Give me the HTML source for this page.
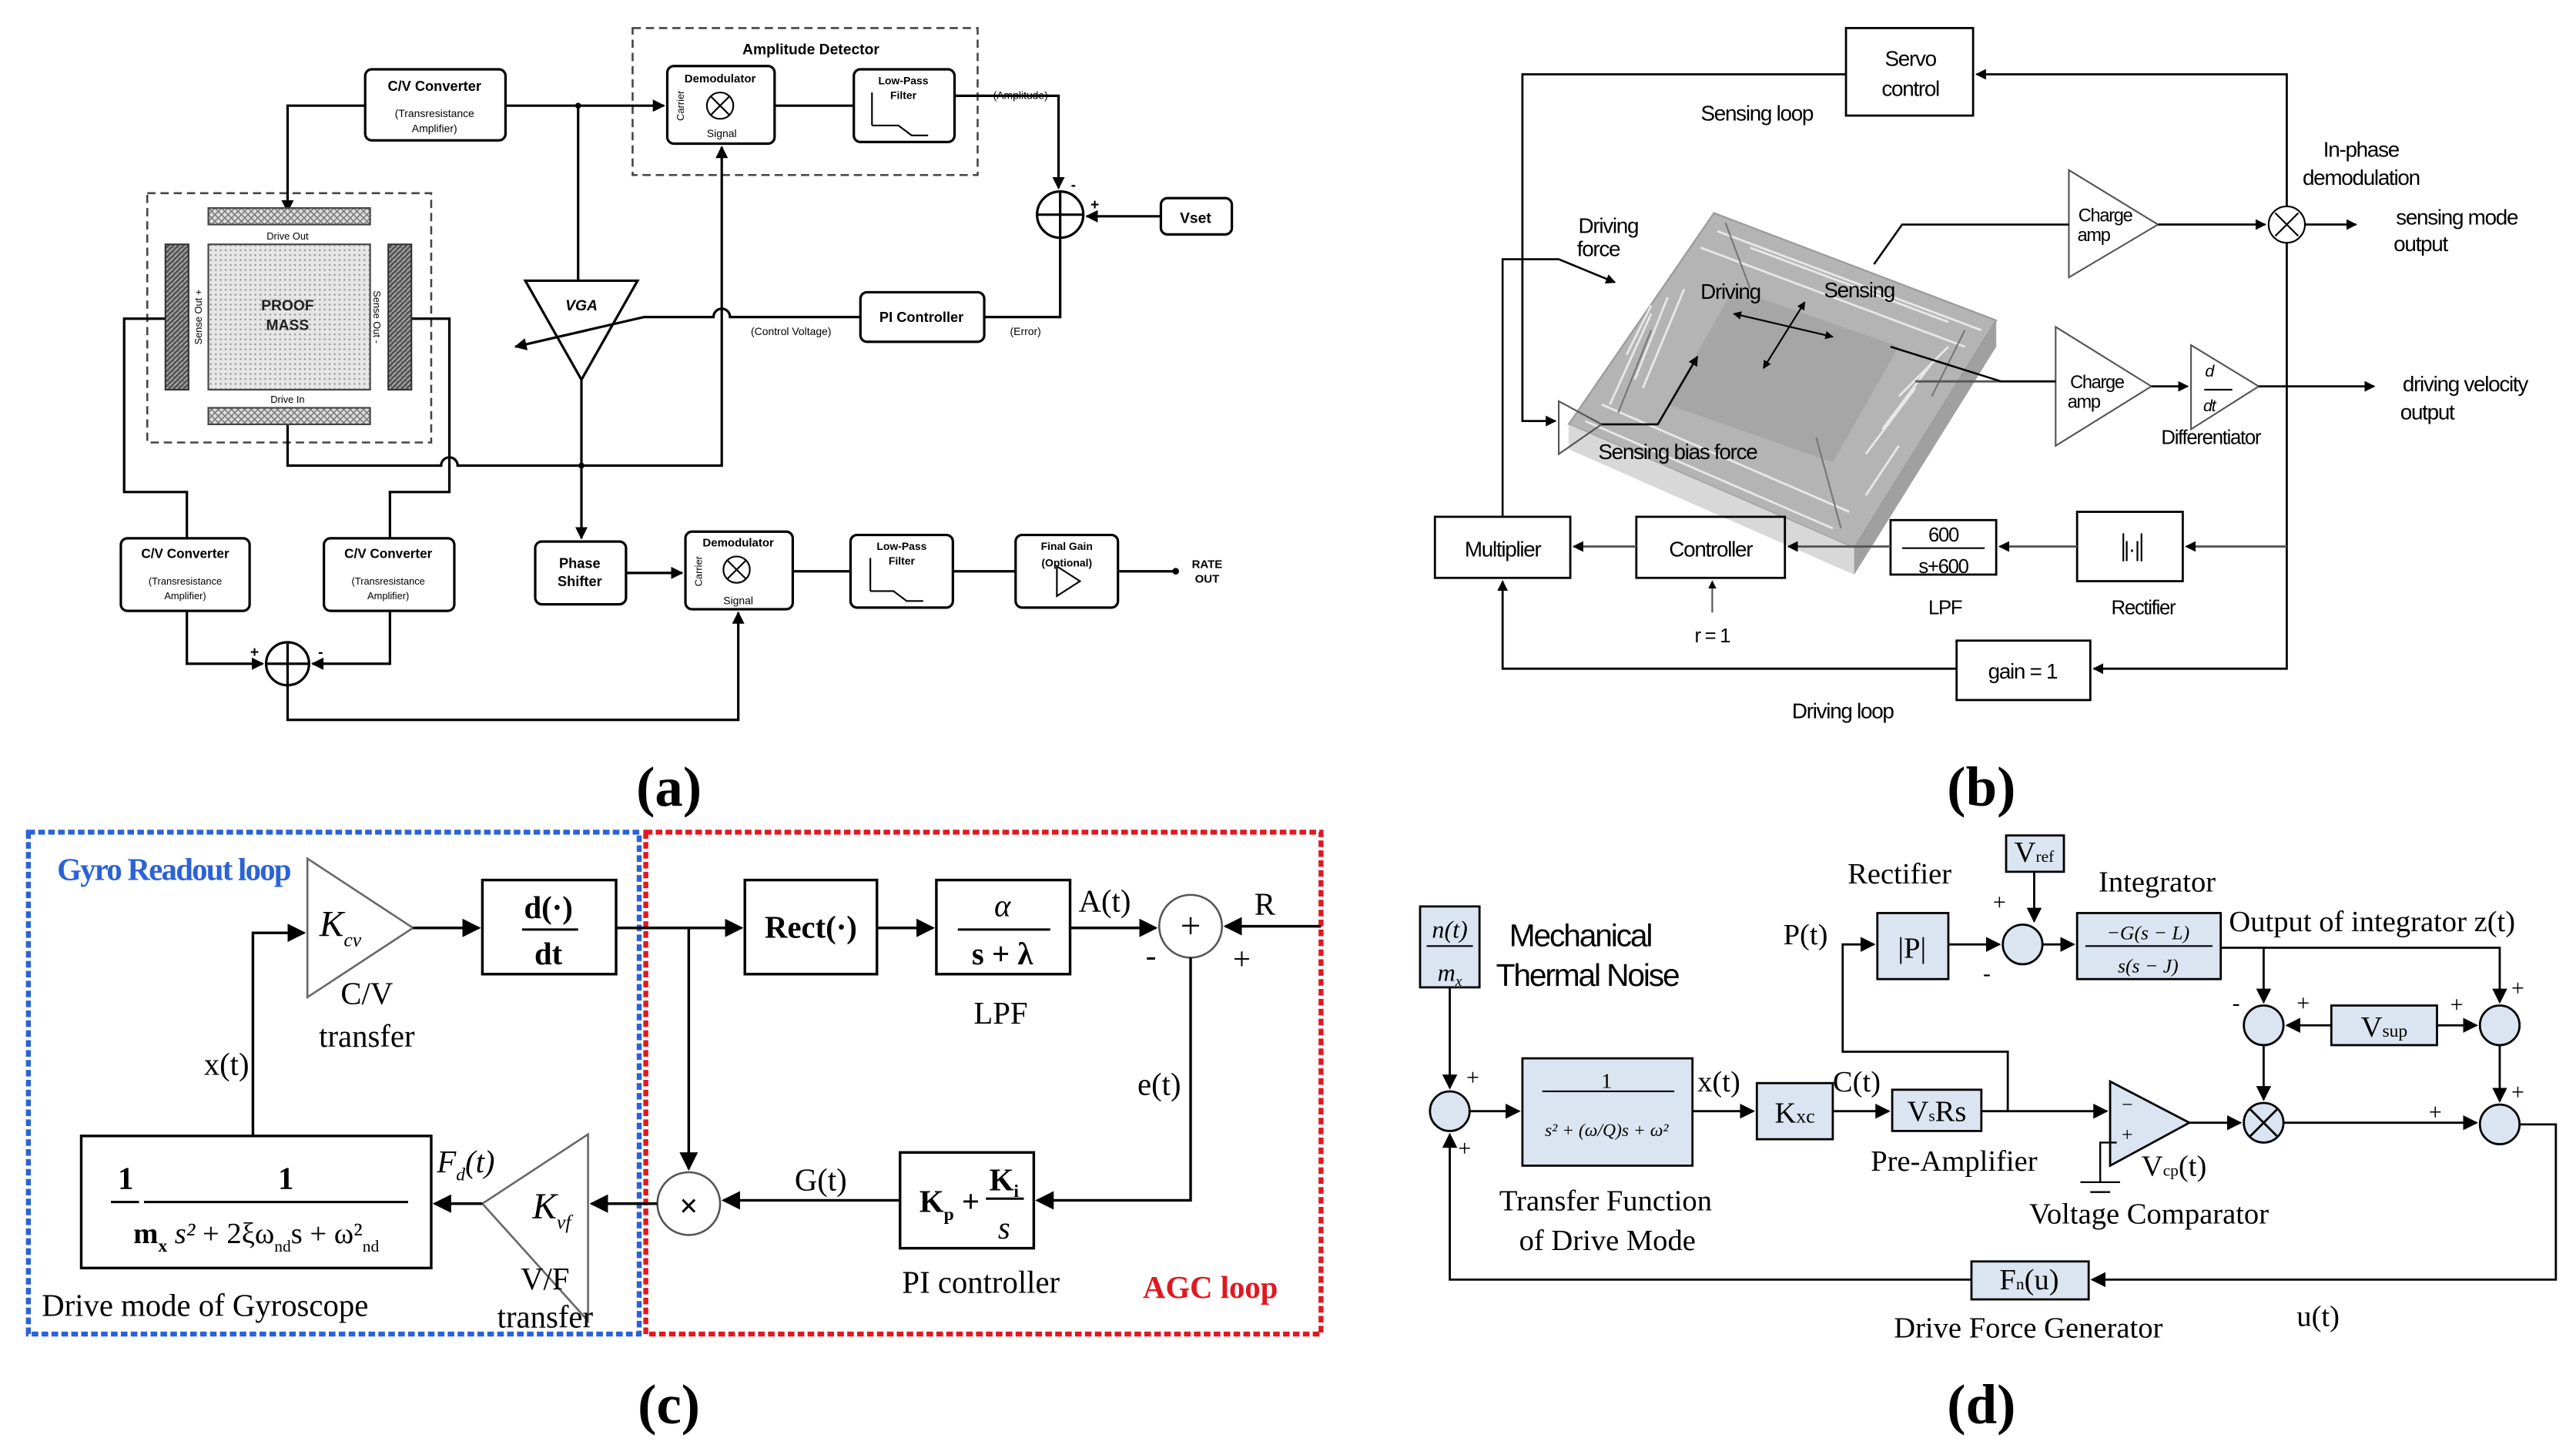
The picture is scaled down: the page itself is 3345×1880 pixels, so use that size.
<!DOCTYPE html>
<html><head><meta charset="utf-8"><style>
html,body{margin:0;padding:0;background:#fff}
svg{display:block}
.a{font-family:"Liberation Sans",sans-serif;font-weight:bold}
.b{font-family:"Liberation Sans",sans-serif}
.t{font-family:"Liberation Serif",serif}
</style></head><body>
<svg xmlns="http://www.w3.org/2000/svg" width="3345" height="1880" viewBox="0 0 1560 877">
<defs>
<marker id="ar" viewBox="0 0 10 10" refX="9" refY="5" markerWidth="5" markerHeight="5" orient="auto-start-reverse"><path d="M0,0L10,5L0,10z" fill="#000"/></marker>
<marker id="ar2" viewBox="0 0 10 10" refX="9" refY="5" markerWidth="7" markerHeight="7" orient="auto-start-reverse"><path d="M0,0L10,5L0,10z" fill="#000"/></marker>
<pattern id="hatch" width="4" height="4" patternUnits="userSpaceOnUse"><rect width="4" height="4" fill="#ddd"/><path d="M0,0L4,4M4,0L0,4" stroke="#777" stroke-width="0.7"/></pattern>
<pattern id="diag" width="3" height="3" patternUnits="userSpaceOnUse"><rect width="3" height="3" fill="#555"/><path d="M0,3L3,0" stroke="#bbb" stroke-width="0.7"/></pattern>
<pattern id="dots" width="3" height="3" patternUnits="userSpaceOnUse"><rect width="3" height="3" fill="#e6e6e6"/><circle cx="1.5" cy="1.5" r="0.6" fill="#999"/></pattern>
</defs>

<!-- ============ PANEL A ============ -->
<g fill="none" stroke="#000" stroke-width="1.5">
<rect x="383" y="17" width="209" height="89" stroke="#444" stroke-dasharray="5,3" stroke-width="1.2"/>
<rect x="89" y="117" width="172" height="151" stroke="#444" stroke-dasharray="5,3" stroke-width="1.2"/>
<rect x="221" y="42" width="85" height="43" rx="4"/>
<rect x="404" y="40" width="65" height="47" rx="4"/>
<rect x="517" y="42" width="61" height="44" rx="4"/>
<rect x="703" y="120" width="43" height="22" rx="4"/>
<rect x="521" y="177" width="75" height="30" rx="4"/>
<rect x="73" y="326" width="78" height="44" rx="4"/>
<rect x="196" y="326" width="79" height="44" rx="4"/>
<rect x="324" y="328" width="55" height="38" rx="4"/>
<rect x="415" y="322" width="65" height="47" rx="4"/>
<rect x="515" y="324" width="62" height="44" rx="4"/>
<rect x="615" y="324" width="62" height="44" rx="4"/>
<circle cx="642" cy="130" r="14"/><path d="M628,130h28M642,116v28"/>
<circle cx="174" cy="402" r="13"/><path d="M161,402h26M174,389v26"/>
<circle cx="436" cy="64" r="8" stroke-width="1"/><path d="M430,58l12,12M442,58l-12,12" stroke-width="1"/>
<circle cx="446" cy="345" r="8" stroke-width="1"/><path d="M440,339l12,12M452,339l-12,12" stroke-width="1"/>
<path d="M528,76V56M528,76h16l8,6h10" stroke-width="1"/>
<path d="M527,358V338M527,358h14l8,6h10" stroke-width="1"/>
<path d="M640,343v18l14,-9z" stroke-width="1"/>
<path d="M318,170h68l-34,60z"/>
<path d="M306,64H402" marker-end="url(#ar)"/>
<path d="M221,64H174V128" marker-end="url(#ar)"/>
<path d="M469,64H517"/>
<path d="M578,58H641V114" marker-end="url(#ar)"/>
<path d="M703,131H658" marker-end="url(#ar)"/>
<path d="M642,144V192H596"/>
<path d="M521,192H442a5,5 0 0,0 -10,0H390L312,210" marker-end="url(#ar)"/>
<path d="M350,64V170"/>
<path d="M352,230V326" marker-end="url(#ar)"/>
<path d="M174,250V282H267a5,5 0 0,1 10,0H437V89" marker-end="url(#ar)"/>
<path d="M106,193H75V298H113V326"/>
<path d="M244,193H272V298H236V326"/>
<path d="M113,370V402H159" marker-end="url(#ar)"/>
<path d="M236,370V402H189" marker-end="url(#ar)"/>
<path d="M174,415V436H447V371" marker-end="url(#ar)"/>
<path d="M379,347H413" marker-end="url(#ar)"/>
<path d="M480,346H515M577,346H615M677,346H712"/>
</g>
<circle cx="350" cy="64" r="1.8"/><circle cx="174" cy="155" r="1.8"/><circle cx="352" cy="282" r="1.8"/><circle cx="712" cy="346" r="2"/>
<rect x="126" y="126" width="98" height="10" fill="url(#hatch)" stroke="#444"/>
<rect x="126" y="247" width="98" height="10" fill="url(#hatch)" stroke="#444"/>
<rect x="126" y="148" width="98" height="88" fill="url(#dots)" stroke="#444"/>
<rect x="100" y="148" width="14" height="88" fill="url(#diag)" stroke="#333"/>
<rect x="235" y="148" width="14" height="88" fill="url(#diag)" stroke="#333"/>
<g class="a" font-size="7.5" text-anchor="middle">
<text x="491" y="33" font-size="9">Amplitude Detector</text>
<text x="263" y="55" font-size="8.5">C/V Converter</text>
<text x="263" y="71" font-weight="normal" font-size="6.5">(Transresistance</text>
<text x="263" y="80" font-weight="normal" font-size="6.5">Amplifier)</text>
<text x="436" y="50" font-size="7">Demodulator</text>
<text x="437" y="83" font-weight="normal" font-size="6.5">Signal</text>
<text x="547" y="51" font-size="6.5">Low-Pass</text>
<text x="547" y="60" font-size="6.5">Filter</text>
<text x="618" y="60" font-weight="normal" font-size="6.5">(Amplitude)</text>
<text x="724" y="135" font-size="9">Vset</text>
<text x="174" y="188" font-size="9" fill="#222">PROOF</text>
<text x="174" y="200" font-size="9" fill="#222">MASS</text>
<text x="174" y="145" font-weight="normal" font-size="6">Drive Out</text>
<text x="174" y="244" font-weight="normal" font-size="6">Drive In</text>
<text x="352" y="188" font-size="9" font-style="italic">VGA</text>
<text x="558" y="195" font-size="8.5">PI Controller</text>
<text x="479" y="203" font-weight="normal" font-size="6.5">(Control Voltage)</text>
<text x="621" y="203" font-weight="normal" font-size="6.5">(Error)</text>
<text x="112" y="338" font-size="8">C/V Converter</text>
<text x="112" y="354" font-weight="normal" font-size="6">(Transresistance</text>
<text x="112" y="363" font-weight="normal" font-size="6">Amplifier)</text>
<text x="235" y="338" font-size="8">C/V Converter</text>
<text x="235" y="354" font-weight="normal" font-size="6">(Transresistance</text>
<text x="235" y="363" font-weight="normal" font-size="6">Amplifier)</text>
<text x="351" y="344" font-size="8.5">Phase</text>
<text x="351" y="355" font-size="8.5">Shifter</text>
<text x="447" y="331" font-size="7">Demodulator</text>
<text x="447" y="366" font-weight="normal" font-size="6.5">Signal</text>
<text x="546" y="333" font-size="6.5">Low-Pass</text>
<text x="546" y="342" font-size="6.5">Filter</text>
<text x="646" y="333" font-size="6.5">Final Gain</text>
<text x="646" y="343" font-size="6.5">(Optional)</text>
<text x="731" y="344" font-size="7">RATE</text>
<text x="731" y="353" font-size="7">OUT</text>
<text x="650" y="115" font-size="9">-</text><text x="663" y="127" font-size="9">+</text>
<text x="154" y="398" font-size="9">+</text><text x="194" y="398" font-size="9">-</text>
</g>
<g class="b" font-size="6" text-anchor="middle">
<text transform="translate(414,64) rotate(-90)">Carrier</text>
<text transform="translate(425,346) rotate(-90)">Carrier</text>
<text transform="translate(122,192) rotate(-90)">Sense Out +</text>
<text transform="translate(226,192) rotate(90)">Sense Out -</text>
</g>

<!-- ============ PANEL B ============ -->
<g>
<polygon points="1038,129 1209,194 1209,210 1123,348 950,272 950,257" fill="#c4c4c4"/>
<polygon points="1038,129 1209,194 1123,332 950,257" fill="#b4b4b4" stroke="#999"/>
<polygon points="950,257 1123,332 1123,348 950,272" fill="#d8d8d8"/>
<polygon points="1123,332 1209,194 1209,210 1123,348" fill="#a0a0a0"/>
<polygon points="1050,175 1150,210 1110,280 1010,245" fill="#a6a6a6"/>
<g stroke="#e8e8e8" stroke-width="1.3">
<path d="M1040,140L1200,200M1030,150L1190,210M1010,180L990,230M1020,175L995,235M1000,190L975,245M960,255L1110,320M970,245L1120,310M1150,240L1180,210M1140,260L1170,220M1130,275L1160,235M1060,150L1180,195M985,215L1000,185M1130,300L1150,270"/>
</g>
<g stroke="#777" stroke-width="1">
<path d="M1045,135L1060,175M1100,265L1115,320M980,250L1000,200M1190,200L1170,240"/>
</g>
</g>
<g fill="none" stroke="#000" stroke-width="1.3">
<rect x="1118" y="17" width="77" height="53"/>
<rect x="869" y="313" width="82" height="37"/>
<rect x="991" y="313" width="90" height="37"/>
<rect x="1145" y="315" width="64" height="33"/>
<rect x="1258" y="310" width="64" height="42"/>
<rect x="1185" y="388" width="81" height="36"/>
<path d="M1253,103L1307,136L1253,168z" stroke="#555" stroke-width="1"/>
<path d="M1245,198L1303,234L1245,270z" stroke="#555" stroke-width="1"/>
<path d="M1327,209L1368,234L1327,260z" stroke="#555" stroke-width="1"/>
<path d="M944,243L970,257L944,275z" stroke="#555" stroke-width="1"/>
<circle cx="1385" cy="136" r="11" stroke-width="1"/><path d="M1378,129l14,14M1392,129l-14,14" stroke-width="1"/>
<path d="M1118,45H922V255H942" marker-end="url(#ar)"/>
<path d="M1385,125V45H1197" marker-end="url(#ar)"/>
<path d="M1307,136H1372" marker-end="url(#ar)"/>
<path d="M1396,136H1427" marker-end="url(#ar)"/>
<path d="M1385,147V405H1268" marker-end="url(#ar)"/>
<path d="M1160,231H1245" stroke="#555"/>
<path d="M1303,234H1325" marker-end="url(#ar)"/>
<path d="M1368,234H1438" marker-end="url(#ar)"/>
<path d="M1385,331H1324" marker-end="url(#ar)" stroke="#555"/>
<path d="M1258,331H1211" marker-end="url(#ar)" stroke="#555"/>
<path d="M1145,331H1083" marker-end="url(#ar)" stroke="#555"/>
<path d="M991,331H953" marker-end="url(#ar)" stroke="#555"/>
<path d="M1037,371V352" marker-end="url(#ar)" stroke="#555" stroke-width="1"/>
<path d="M1185,405H910V352" marker-end="url(#ar)"/>
<path d="M910,313V157H944L978,171" marker-end="url(#ar)" stroke-width="1.2"/>
<path d="M970,257H1004L1028,216" marker-end="url(#ar)" stroke-width="1.2"/>
<path d="M1253,136H1152L1135,160" stroke-width="1.2"/>
<path d="M1245,231H1212L1145,210" stroke-width="1.2"/>
<path d="M1050,190L1110,204" marker-start="url(#ar)" marker-end="url(#ar)" stroke-width="1"/>
<path d="M1093,183L1068,223" marker-start="url(#ar)" marker-end="url(#ar)" stroke-width="1"/>
<path d="M1152,332H1202" stroke-width="1"/>
<path d="M1286,323V340M1297,323V340" stroke-width="1"/>
<path d="M1335,236H1352" stroke-width="1"/>
</g>
<g class="b" font-size="13" text-anchor="middle" letter-spacing="-0.6">
<text x="1157" y="40">Servo</text><text x="1157" y="58">control</text>
<text x="1064" y="73">Sensing loop</text>
<text x="1430" y="95">In-phase</text><text x="1430" y="112">demodulation</text>
<text x="1488" y="136">sensing mode</text><text x="1466" y="152">output</text>
<text x="1493" y="237">driving velocity</text><text x="1470" y="254">output</text>
<text x="974" y="141">Driving</text><text x="968" y="155">force</text>
<text x="1048" y="181">Driving</text><text x="1126" y="180">Sensing</text>
<text x="1016" y="278">Sensing bias force</text>
<text x="1275" y="134" font-size="11">Charge</text><text x="1268" y="146" font-size="11">amp</text>
<text x="1270" y="235" font-size="11">Charge</text><text x="1262" y="247" font-size="11">amp</text>
<text x="1339" y="269" font-size="12">Differentiator</text>
<text x="1338" y="228" font-size="10" font-style="italic">d</text><text x="1338" y="249" font-size="10" font-style="italic">dt</text>
<text x="910" y="337">Multiplier</text>
<text x="1036" y="337">Controller</text>
<text x="1177" y="328" font-size="12">600</text><text x="1177" y="347" font-size="12">s+600</text>
<text x="1291" y="337">|·|</text>
<text x="1178" y="372" font-size="12">LPF</text>
<text x="1298" y="372" font-size="12">Rectifier</text>
<text x="1037" y="389" font-size="12">r = 1</text>
<text x="1225" y="411">gain = 1</text>
<text x="1116" y="435">Driving loop</text>
</g>

<!-- ============ PANEL C ============ -->
<rect x="17" y="504" width="370" height="304" fill="none" stroke="#2a62d8" stroke-width="3" stroke-dasharray="4,2"/>
<rect x="391" y="504" width="409" height="304" fill="none" stroke="#e01820" stroke-width="3" stroke-dasharray="4,2"/>
<g fill="none" stroke="#000" stroke-width="1.6">
<path d="M186,520L250,562L186,604z" stroke="#666" stroke-width="1.2"/>
<path d="M356,687L292,729L356,800z" stroke="#666" stroke-width="1.2"/>
<rect x="292" y="533" width="81" height="57"/>
<rect x="451" y="533" width="80" height="57"/>
<rect x="567" y="533" width="81" height="57"/>
<rect x="545" y="698" width="81" height="58"/>
<rect x="49" y="688" width="212" height="80"/>
<circle cx="721" cy="561" r="19" stroke="#555" stroke-width="1.2"/>
<circle cx="417" cy="729" r="19" stroke="#555" stroke-width="1.2"/>
<path d="M250,562H290" marker-end="url(#ar2)"/>
<path d="M373,562H449" marker-end="url(#ar2)"/>
<path d="M531,562H565" marker-end="url(#ar2)"/>
<path d="M648,562H700" marker-end="url(#ar2)"/>
<path d="M800,561H742" marker-end="url(#ar2)"/>
<path d="M721,580V727H628" marker-end="url(#ar2)"/>
<path d="M545,727H438" marker-end="url(#ar2)"/>
<path d="M417,562V708" marker-end="url(#ar2)"/>
<path d="M398,729H358" marker-end="url(#ar2)"/>
<path d="M292,729H263" marker-end="url(#ar2)"/>
<path d="M153,688V565H184" marker-end="url(#ar2)"/>
<path d="M316,563H350M580,563H636M67,728H84M87,728H247M597,726H620" stroke-width="1.4"/>
</g>
<g class="t" text-anchor="middle" font-size="19">
<text x="105" y="533" font-size="19" fill="#2a62d8" font-weight="bold" letter-spacing="-0.8">Gyro Readout loop</text>
<text x="206" y="567" font-style="italic" font-size="22">K<tspan font-size="12" dy="6">cv</tspan></text>
<text x="332" y="556" font-weight="bold">d(·)</text><text x="332" y="584" font-weight="bold">dt</text>
<text x="491" y="568" font-weight="bold">Rect(·)</text>
<text x="607" y="555" font-style="italic">α</text><text x="607" y="584" font-weight="bold">s + λ</text>
<text x="669" y="552">A(t)</text>
<text x="721" y="568" font-size="22">+</text>
<text x="766" y="554">R</text>
<text x="697" y="585">-</text><text x="752" y="587">+</text>
<text x="222" y="608">C/V</text><text x="222" y="634">transfer</text>
<text x="606" y="620">LPF</text>
<text x="137" y="651">x(t)</text>
<text x="702" y="663">e(t)</text>
<text x="497" y="721">G(t)</text>
<text x="417" y="737" font-weight="bold" font-size="20">×</text>
<text x="334" y="738" font-style="italic" font-size="22">K<tspan font-size="12" dy="6">vf</tspan></text>
<text x="282" y="710" font-style="italic">F<tspan font-size="11" dy="5">d</tspan><tspan dy="-5">(t)</tspan></text>
<text x="575" y="734" font-weight="bold">K<tspan font-size="11" dy="5">p</tspan><tspan dy="-5"> +</tspan></text>
<text x="608" y="721" font-weight="bold">K<tspan font-size="11" dy="4">i</tspan></text>
<text x="608" y="750" font-style="italic">s</text>
<text x="76" y="720" font-weight="bold">1</text><text x="173" y="720" font-weight="bold">1</text>
<text x="155" y="753" font-size="18"><tspan font-weight="bold">m<tspan font-size="11" dy="5">x</tspan></tspan><tspan dy="-5" font-style="italic"> s²</tspan> + 2ξω<tspan font-size="10" dy="5">nd</tspan><tspan dy="-5">s + ω²</tspan><tspan font-size="10" dy="5">nd</tspan></text>
<text x="330" y="781">V/F</text><text x="330" y="804">transfer</text>
<text x="594" y="783">PI controller</text>
<text x="733" y="786" fill="#e01820" font-weight="bold">AGC loop</text>
<text x="124" y="797" text-anchor="middle">Drive mode of Gyroscope</text>
</g>

<!-- ============ PANEL D ============ -->
<g stroke="#000" stroke-width="1.3" fill="#dbe5f1">
<rect x="860" y="549" width="36" height="49"/>
<rect x="922" y="641" width="103" height="65"/>
<rect x="1064" y="656" width="46" height="34"/>
<rect x="1146" y="660" width="54" height="25"/>
<rect x="1137" y="553" width="43" height="40"/>
<rect x="1215" y="506" width="35" height="22"/>
<rect x="1258" y="553" width="87" height="40"/>
<rect x="1412" y="609" width="64" height="24"/>
<rect x="1194" y="764" width="71" height="23"/>
<circle cx="878" cy="673" r="12"/>
<circle cx="1225" cy="572" r="12"/>
<circle cx="1371" cy="621" r="12"/>
<circle cx="1514" cy="621" r="12"/>
<circle cx="1371" cy="680" r="12"/>
<circle cx="1514" cy="681" r="12"/>
<path d="M1278,655L1326,680L1278,706z"/>
</g>
<g fill="none" stroke="#000" stroke-width="1.3">
<path d="M1363,672l16,16M1379,672l-16,16"/>
<path d="M878,598V659" marker-end="url(#ar2)"/>
<path d="M890,673H920" marker-end="url(#ar2)"/>
<path d="M1025,673H1062" marker-end="url(#ar2)"/>
<path d="M1110,673H1144" marker-end="url(#ar2)"/>
<path d="M1200,673H1276" marker-end="url(#ar2)"/>
<path d="M1216,673V637H1116V572H1135" marker-end="url(#ar2)"/>
<path d="M1180,572H1211" marker-end="url(#ar2)"/>
<path d="M1232,528V558" marker-end="url(#ar2)"/>
<path d="M1237,572H1256" marker-end="url(#ar2)"/>
<path d="M1345,574H1514V607" marker-end="url(#ar2)"/>
<path d="M1371,574V607" marker-end="url(#ar2)"/>
<path d="M1412,621H1385" marker-end="url(#ar2)"/>
<path d="M1476,621H1500" marker-end="url(#ar2)"/>
<path d="M1371,633V666" marker-end="url(#ar2)"/>
<path d="M1514,633V667" marker-end="url(#ar2)"/>
<path d="M1326,680H1357" marker-end="url(#ar2)"/>
<path d="M1383,680H1500" marker-end="url(#ar2)"/>
<path d="M1526,681H1548V775H1267" marker-end="url(#ar2)"/>
<path d="M1194,775H878V687" marker-end="url(#ar2)"/>
<path d="M1282,692H1272V716M1260,716H1284M1266,722H1278" stroke-width="1.1"/>
<path d="M864,573H892M934,661H1014M1263,573H1340" stroke-width="1"/>
</g>
<g class="t" font-size="18">
<text x="878" y="568" font-size="15" font-style="italic" text-anchor="middle">n(t)</text>
<text x="878" y="594" font-size="15" font-style="italic" text-anchor="middle">m<tspan font-size="9" dy="3">x</tspan></text>
<text x="914" y="573" class="b" font-size="19" letter-spacing="-1">Mechanical</text>
<text x="906" y="597" class="b" font-size="19" letter-spacing="-1">Thermal Noise</text>
<text x="888" y="657" font-size="14">+</text><text x="883" y="700" font-size="14">+</text>
<text x="973" y="659" font-size="13" text-anchor="middle">1</text>
<text x="973" y="688" font-size="11" font-style="italic" text-anchor="middle">s² + (ω/Q)s + ω²</text>
<text x="1028" y="661">x(t)</text>
<text x="1087" y="680" text-anchor="middle">K<tspan font-size="12">xc</tspan></text>
<text x="1110" y="661">C(t)</text>
<text x="1173" y="679" text-anchor="middle">V<tspan font-size="10">s</tspan>Rs</text>
<text x="1133" y="709">Pre-Amplifier</text>
<text x="908" y="733">Transfer Function</text>
<text x="920" y="757">of Drive Mode</text>
<text x="1119" y="535">Rectifier</text>
<text x="1080" y="572">P(t)</text>
<text x="1158" y="580" text-anchor="middle">|P|</text>
<text x="1232" y="522" text-anchor="middle">V<tspan font-size="10">ref</tspan></text>
<text x="1207" y="551" font-size="14">+</text><text x="1201" y="594" font-size="14">-</text>
<text x="1271" y="540">Integrator</text>
<text x="1301" y="569" font-size="12" font-style="italic" text-anchor="middle">−G(s − L)</text>
<text x="1301" y="589" font-size="12" font-style="italic" text-anchor="middle">s(s − J)</text>
<text x="1350" y="564">Output of integrator z(t)</text>
<text x="1444" y="628" text-anchor="middle">V<tspan font-size="11">sup</tspan></text>
<text x="1352" y="612" font-size="14">-</text><text x="1391" y="612" font-size="14">+</text>
<text x="1484" y="613" font-size="14">+</text><text x="1521" y="603" font-size="14">+</text>
<text x="1521" y="666" font-size="14">+</text><text x="1471" y="678" font-size="14">+</text>
<text x="1285" y="673" font-size="12">−</text><text x="1285" y="691" font-size="12">+</text>
<text x="1297" y="712">V<tspan font-size="10">cp</tspan>(t)</text>
<text x="1229" y="741">Voltage Comparator</text>
<text x="1229" y="781" text-anchor="middle">F<tspan font-size="10">n</tspan>(u)</text>
<text x="1147" y="810">Drive Force Generator</text>
<text x="1391" y="803">u(t)</text>
</g>

<g class="t" font-weight="bold" font-size="34" text-anchor="middle">
<text x="405" y="488">(a)</text>
<text x="1200" y="488">(b)</text>
<text x="405" y="862">(c)</text>
<text x="1200" y="862">(d)</text>
</g>
</svg>
</body></html>
